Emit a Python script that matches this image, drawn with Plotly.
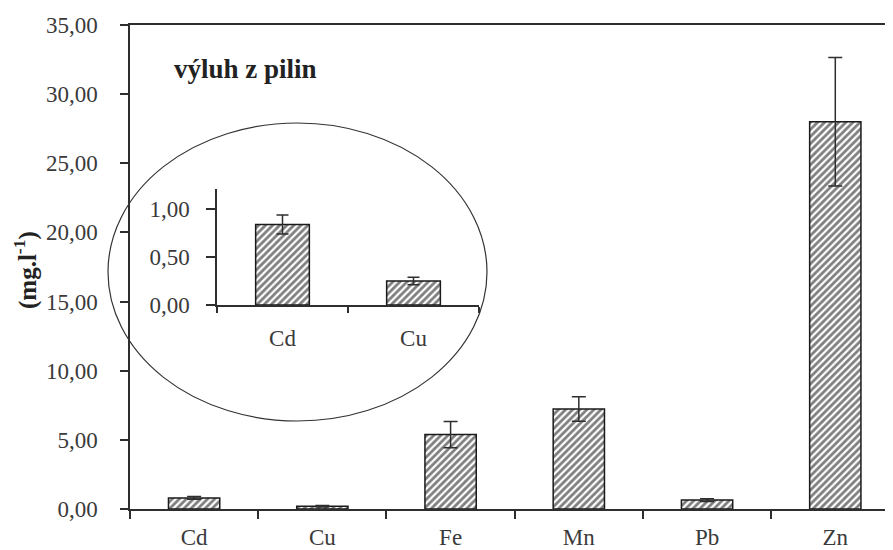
import plotly.graph_objects as go

categories = ["Cd", "Cu", "Fe", "Mn", "Pb", "Zn"]
values = [0.80, 0.20, 5.38, 7.23, 0.65, 28.0]
errors = [0.10, 0.05, 0.95, 0.88, 0.10, 4.65]

inset_categories = ["Cd", "Cu"]
inset_values = [0.84, 0.25]
inset_errors = [0.10, 0.04]

y_ticks = [0, 5, 10, 15, 20, 25, 30, 35]
inset_ticks = [0, 0.5, 1.0]

FONT = "Liberation Serif"
AX = "#2e2e2e"
TXT = "#3a3a3a"
FS = 23

# page body has an 8px default margin; screen coords -> paper coords
OFF = 8
PL, PR, PT, PB = 130, 893, 25, 509  # plot area in screen pixels


def px(x):
    return (x - PL) / (PR - PL)


def py(y):
    return (PB - y) / (PB - PT)


pattern = dict(shape="/", fgcolor="#000000", bgcolor="white", size=5, solidity=0.55)

fig = go.Figure()
fig.add_trace(go.Bar(
    x=categories, y=values, width=0.4,
    marker=dict(color="white", pattern=pattern, line=dict(color="#1a1a1a", width=1.5)),
    error_y=dict(type="data", array=errors, visible=True, color=AX, thickness=1.5, width=7),
    xaxis="x", yaxis="y", showlegend=False,
))
fig.add_trace(go.Bar(
    x=inset_categories, y=inset_values, width=0.41,
    marker=dict(color="white", pattern=pattern, line=dict(color="#1a1a1a", width=1.5)),
    error_y=dict(type="data", array=inset_errors, visible=True, color=AX, thickness=1.5, width=6),
    xaxis="x2", yaxis="y2", showlegend=False,
))

common = dict(showgrid=False, zeroline=False, automargin=False,
              showline=True, linecolor=AX, linewidth=1.5,
              ticks="outside", tickcolor=AX, tickwidth=1.5, tickfont=dict(size=FS))

fig.update_layout(
    width=893 - OFF, height=550 - OFF,
    margin=dict(l=PL - OFF, r=0, t=PT - OFF, b=550 - PB),
    paper_bgcolor="white", plot_bgcolor="white",
    separators=", ",
    font=dict(family=FONT, size=FS, color=TXT),
    bargap=0.6,
    xaxis=dict(
        domain=[0, 1], range=[-0.5, 5.45], type="category", mirror=True,
        tickson="boundaries", ticklen=8, ticklabelstandoff=7, **common,
    ),
    yaxis=dict(
        domain=[0, 1], range=[0, 35], tickvals=y_ticks, tickformat=".2f",
        ticklen=8, ticklabelstandoff=18, **common,
    ),
    xaxis2=dict(
        domain=[px(217), px(479)], anchor="y2", type="category", range=[-0.5, 1.5],
        tickson="boundaries", ticklen=6, ticklabelstandoff=12, **common,
    ),
    yaxis2=dict(
        domain=[py(305), py(189)], anchor="x2", range=[0, 1.21],
        tickvals=inset_ticks, tickformat=".2f",
        ticklen=9, ticklabelstandoff=12, **common,
    ),
    shapes=[dict(
        type="circle", xref="paper", yref="paper",
        x0=px(108), x1=px(487), y0=py(421), y1=py(123),
        line=dict(color="#333333", width=1.2),
    )],
    annotations=[
        dict(
            text="<b>výluh z pilin</b>", xref="paper", yref="paper",
            x=px(172), y=py(69), xanchor="left", yanchor="middle",
            showarrow=False, font=dict(family=FONT, size=27, color="#222222"),
        ),
        dict(
            text="<b>(mg.l<sup>-1</sup>)</b>", xref="paper", yref="paper",
            x=px(25), y=py(270), xanchor="center", yanchor="middle", textangle=-90,
            showarrow=False, font=dict(family=FONT, size=25, color="#222222"),
        ),
    ],
)

fig.write_html("out.html")
